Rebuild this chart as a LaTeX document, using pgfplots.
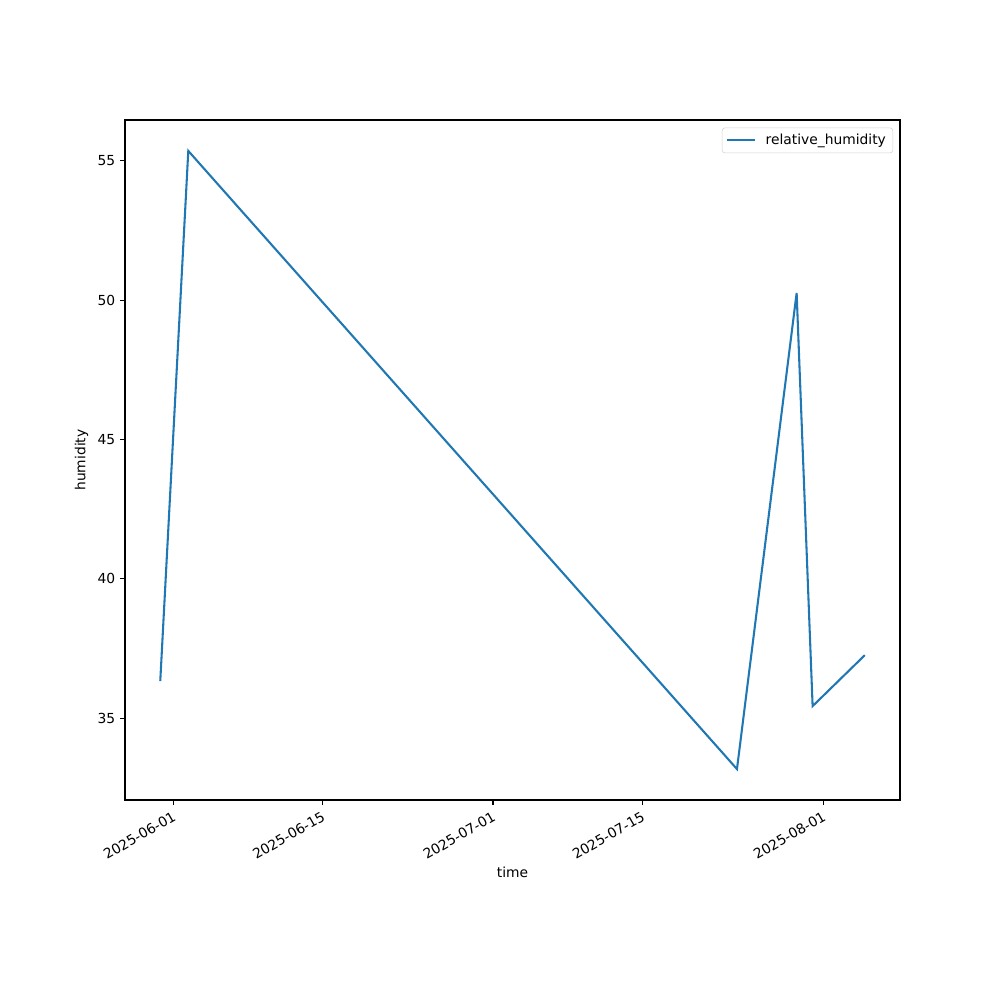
\documentclass[border=0pt]{standalone}
\usepackage{pgfplots}
\pgfplotsset{compat=1.18}
\usepackage{fontspec}
\setmainfont{DejaVu Sans}
\definecolor{mplblue}{HTML}{1F77B4}

% days counted from 2025-06-01
\pgfplotstableread{
day    rh
-1.22  36.33
1.41   55.36
52.9   33.17
58.5   50.26
60.0   35.43
64.9   37.26
}\humidity

\begin{document}
\fontsize{10}{12}\selectfont
\begin{tikzpicture}
\path[use as bounding box] (-1.25in,-2.0in) rectangle (8.75in,8.0in);
\begin{axis}[
  at={(0,0)}, anchor=south west,
  scale only axis, width=7.75in, height=6.8in,
  xmin=-4.53, xmax=68.2, ymin=32.06, ymax=56.47,
  xtick={0,14,30,44,61},
  xticklabels={2025-06-01,2025-06-15,2025-07-01,2025-07-15,2025-08-01},
  ytick={35,40,45,50,55},
  xticklabel style={rotate=30, anchor=north east, inner sep=1pt, yshift=-2pt, xshift=-2pt},
  tick align=outside, tick pos=left,
  major tick length=3.5pt,
  tick style={black, line width=0.8pt},
  axis line style={line width=0.8pt},
  /pgf/number format/assume math mode=true,
  tick label style={font=\fontsize{10}{12}\selectfont},
  xlabel={time}, ylabel={humidity},
  label style={font=\fontsize{10}{12}\selectfont},
  legend style={at={(1,1)}, anchor=north east, xshift=-5pt, yshift=-5.5pt,
    draw=gray!35, rounded corners=2pt, font=\fontsize{10}{12}\selectfont,
    inner xsep=3pt, inner ysep=2.5pt, column sep=5pt},
  legend cell align=left,
  legend image code/.code={\draw[#1] (0cm,0cm) -- (0.7cm,0cm);},
]
\addplot[mplblue, line width=1.5pt, line join=miter] table[x=day, y=rh] {\humidity};
\addlegendentry{relative\_humidity}
\end{axis}
\end{tikzpicture}
\end{document}
